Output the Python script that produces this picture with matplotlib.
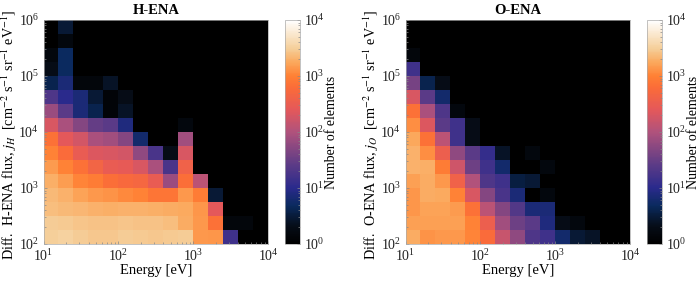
import numpy as np
import matplotlib
matplotlib.use('Agg')
import matplotlib.pyplot as plt
from matplotlib.colors import LinearSegmentedColormap, LogNorm

plt.rcParams['font.family'] = ['Liberation Serif', 'DejaVu Serif']
plt.rcParams['mathtext.fontset'] = 'stix'
plt.rcParams['font.size'] = 10.5

# counts per bin, rows from lowest flux bin to the highest, black bins are 1
h_counts = [
    [3100, 3300, 3000, 2800, 2800, 3000, 2900, 2800, 2900, 3000, 1400, 1350, 15, 1, 1],
    [3000, 2900, 2700, 2600, 2600, 2700, 2600, 2600, 2400, 1850, 1400, 700, 1.4, 1.4, 1],
    [2400, 2250, 2150, 2000, 1950, 2050, 2000, 1950, 1850, 1800, 1350, 250, 1, 1, 1],
    [2250, 2050, 1650, 1400, 1300, 1150, 1000, 750, 750, 1400, 900, 3, 1, 1, 1],
    [1950, 1500, 1050, 900, 650, 550, 500, 300, 70, 650, 120, 1, 1, 1, 1],
    [1450, 1000, 700, 450, 300, 280, 200, 90, 18, 400, 1, 1, 1, 1, 1],
    [1000, 600, 300, 220, 200, 180, 60, 18, 2, 200, 1, 1, 1, 1, 1],
    [700, 250, 180, 90, 80, 50, 6, 1, 1, 80, 1, 1, 1, 1, 1],
    [200, 90, 50, 30, 25, 8, 1, 1, 1, 1.5, 1, 1, 1, 1, 1],
    [70, 25, 7, 4, 1.3, 2.5, 1, 1, 1, 1, 1, 1, 1, 1, 1],
    [20, 10, 7, 3, 1.3, 2, 1, 1, 1, 1, 1, 1, 1, 1, 1],
    [4, 7, 1.4, 1.4, 2.5, 1, 1, 1, 1, 1, 1, 1, 1, 1, 1],
    [2, 5, 1, 1, 1, 1, 1, 1, 1, 1, 1, 1, 1, 1, 1],
    [1.5, 5, 1, 1, 1, 1, 1, 1, 1, 1, 1, 1, 1, 1, 1],
    [1, 1.5, 1, 1, 1, 1, 1, 1, 1, 1, 1, 1, 1, 1, 1],
    [1, 3, 1, 1, 1, 1, 1, 1, 1, 1, 1, 1, 1, 1, 1],
]
o_counts = [
    [1900, 1300, 1400, 1400, 1050, 600, 150, 60, 20, 15, 6, 3, 2.5, 1, 1],
    [1550, 1550, 1550, 1550, 1000, 350, 80, 35, 25, 8, 2, 1.5, 1, 1, 1],
    [1350, 1600, 1650, 1450, 700, 120, 50, 22, 7, 7, 1, 1, 1, 1, 1],
    [1350, 1900, 1800, 1000, 200, 50, 18, 7, 1, 1.5, 1, 1, 1, 1, 1],
    [1550, 1900, 1400, 400, 100, 20, 15, 3.5, 3, 1, 1, 1, 1, 1, 1],
    [2050, 1950, 900, 170, 35, 15, 6, 1, 1, 1.5, 1, 1, 1, 1, 1],
    [2050, 1200, 350, 60, 25, 12, 2.5, 1, 1.5, 1, 1, 1, 1, 1, 1],
    [1750, 700, 120, 15, 2, 1, 1, 1, 1, 1, 1, 1, 1, 1, 1],
    [1200, 220, 25, 15, 2, 1, 1, 1, 1, 1, 1, 1, 1, 1, 1],
    [700, 90, 20, 1.5, 1, 1, 1, 1, 1, 1, 1, 1, 1, 1, 1],
    [200, 25, 6, 1, 1, 1, 1, 1, 1, 1, 1, 1, 1, 1, 1],
    [40, 4, 2, 1, 1, 1, 1, 1, 1, 1, 1, 1, 1, 1, 1],
    [15, 1, 1, 1, 1, 1, 1, 1, 1, 1, 1, 1, 1, 1, 1],
    [1.4, 1, 1, 1, 1, 1, 1, 1, 1, 1, 1, 1, 1, 1, 1],
    [1, 1, 1, 1, 1, 1, 1, 1, 1, 1, 1, 1, 1, 1, 1],
    [1, 1, 1, 1, 1, 1, 1, 1, 1, 1, 1, 1, 1, 1, 1],
]
energy_edges = np.logspace(1, 4, 16)
flux_edges = np.logspace(2, 6, 17)

cmap = LinearSegmentedColormap.from_list('torch', [
    (0.0, '#000000'), (0.08, '#060d18'), (0.17, '#0a2a5e'), (0.25, '#2a2a8c'),
    (0.36, '#5f3c86'), (0.5, '#b0527c'), (0.6, '#e4585a'), (0.7, '#fb6c38'),
    (0.75, '#ff8034'), (0.8125, '#fba85c'), (0.875, '#f5cf9a'), (1.0, '#ffffff')])
norm = LogNorm(1, 1e4)

fig = plt.figure(figsize=(7, 2.85), dpi=100)

panels = [
    ('H-ENA', h_counts, r'Diff.  H-ENA flux, $j_H$  [cm$^{-2}$ s$^{-1}$ sr$^{-1}$ eV$^{-1}$]', 43.5, 284.5),
    ('O-ENA', o_counts, r'Diff.  O-ENA flux, $j_O$  [cm$^{-2}$ s$^{-1}$ sr$^{-1}$ eV$^{-1}$]', 405.5, 646.5),
]
for title, counts, ylabel, ax_left, cb_left in panels:
    ax = fig.add_axes([ax_left / 700, 1 - 244 / 285, 224.5 / 700, 224 / 285])
    mesh = ax.pcolormesh(energy_edges, flux_edges, np.array(counts), cmap=cmap, norm=norm)
    ax.set_xscale('log')
    ax.set_yscale('log')
    ax.set_xlim(1e1, 1e4)
    ax.set_ylim(1e2, 1e6)
    ax.set_title(title, fontsize=10.5, fontweight='bold', pad=4)
    ax.set_xlabel('Energy [eV]', labelpad=0)
    ax.set_ylabel(ylabel, fontsize=10.2)
    ax.yaxis.set_label_coords(-0.108, 0.49)
    ax.tick_params(which='both', direction='in', color='#888888', width=0.5, labelcolor='#222222',
                   labelsize=10)
    ax.tick_params(which='major', length=2.5, pad=3)
    ax.tick_params(which='minor', length=1.5)
    for s in ax.spines.values():
        s.set_color('#aaaaaa')
        s.set_linewidth(0.5)

    cax = fig.add_axes([cb_left / 700, 1 - 244 / 285, 15 / 700, 224 / 285])
    cb = fig.colorbar(mesh, cax=cax)
    cb.set_label('Number of elements', fontsize=10)
    cb.ax.yaxis.set_label_coords(2.7, 0.5)
    cb.ax.tick_params(which='both', direction='in', color='#888888', width=0.5, labelcolor='#222222',
                      labelsize=10)
    cb.ax.tick_params(which='major', length=2.5, pad=3)
    cb.ax.tick_params(which='minor', length=1.2)
    cb.outline.set_edgecolor('#aaaaaa')
    cb.outline.set_linewidth(0.5)

fig.savefig('out.png', dpi=100)
